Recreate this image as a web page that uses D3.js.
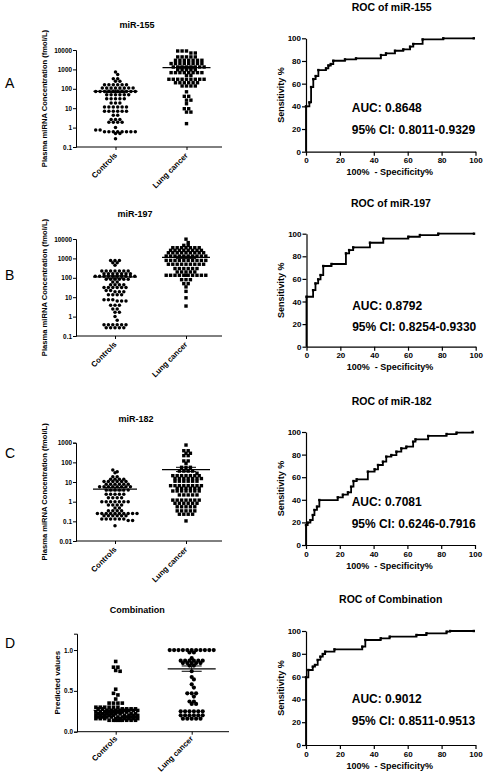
<!DOCTYPE html>
<html><head><meta charset="utf-8">
<script src="https://cdn.jsdelivr.net/npm/d3@7"></script>
<style>body{margin:0;background:#fff}svg{display:block}</style>
</head><body><svg id="c" width="487" height="773"></svg>
<script>
// ---------- DATA ----------
const categories = ["Controls", "Lung cancer"];
const panelLetters = ["A", "B", "C", "D"];
const scatterTitles = ["miR-155", "miR-197", "miR-182", "Combination"];
const rocTitles = ["ROC of miR-155", "ROC of miR-197", "ROC of miR-182", "ROC of Combination"];
const aucLabels = ["AUC: 0.8648", "AUC: 0.8792", "AUC: 0.7081", "AUC: 0.9012"];
const ciLabels = ["95% CI: 0.8011-0.9329", "95% CI: 0.8254-0.9330", "95% CI: 0.6246-0.7916", "95% CI: 0.8511-0.9513"];
const concLabel = "Plasma miRNA Concentration (fmol/L)";
const predLabel = "Predicted values";
const rocXLabel = "100%  - Specificity%";
const rocYLabel = "Sensitivity %";
const logTicksAB = [0.1, 1, 10, 100, 1000, 10000];
const logTicksC = [0.01, 0.1, 1, 10, 100, 1000];
const linTicksD = [0, 0.5, 1.0];
const rocTicks = [0, 20, 40, 60, 80, 100];

const mir155Controls = [740, 540, 330, 330, 245, 245, 160, 160, 160, 160, 160, 160, 110, 110, 110, 110, 110, 110, 110, 110,
  72, 72, 72, 72, 72, 72, 72, 72, 72, 72, 50, 50, 50, 50, 50, 50, 31, 31, 31, 31, 31, 18.6, 18.6, 18.6,
  11.5, 11.5, 11.5, 11.5, 11.5, 11.5, 7, 7, 7, 7, 7, 7, 4.3, 4.3, 2.6, 2.6, 2.6, 1.9, 1.9, 1.9, 1.9, 1.0,
  0.75, 0.75, 0.62, 0.62, 0.62, 0.62, 0.62, 0.62, 0.62, 0.62, 0.49, 0.49, 0.27];
const mir155Lung = [8900, 8900, 8900, 7000, 7000, 4400, 4400, 4400, 4400, 4400, 2950, 2950, 2950, 2950, 2950, 2950, 2950,
  2000, 2000, 2000, 2000, 2000, 2000, 2000, 2000, 1330, 1330, 1330, 1330, 1330, 1330, 1330, 1330,
  950, 950, 950, 950, 950, 680, 680, 680, 680, 680, 680, 680, 680, 490, 490,
  310, 310, 310, 310, 310, 310, 310, 310, 310, 205, 205, 205, 205, 205, 205, 140, 140, 140, 140,
  70, 41, 41, 26, 26, 17, 9.4, 9.4, 6.3, 6.3, 1.6];
const mir155Mean = [74, 1230];
const mir155SemLow = [64, 1080];
const mir155SemHigh = [86, 1400];

const mir197Controls = [790, 790, 790, 600, 600, 450, 225, 225, 225, 225, 225, 225, 225, 163, 163, 163, 163, 163, 163, 163,
  120, 120, 120, 120, 120, 120, 120, 120, 120, 120, 83, 83, 83, 83, 83, 83, 60, 60, 44, 44, 44, 44,
  32, 32, 32, 32, 32, 32, 22, 22, 19, 19, 19, 13.5, 13.5, 13.5, 13.5, 7.4, 7.4, 7.4, 6.3, 6.3, 6.3,
  3.8, 3.8, 3.8, 2.5, 2.5, 1.7, 1.7, 1.0, 0.65, 0.38, 0.38, 0.38, 0.38, 0.38, 0.38, 0.27, 0.27, 0.27, 0.27, 0.27];
const mir197Lung = [9800, 6500, 4700, 4700, 3550, 3550, 3550, 3550, 3550, 3550, 3550, 2600, 2600, 2600, 2600, 2600, 2600, 2600, 2600,
  1960, 1960, 1960, 1960, 1960, 1960, 1960, 1960, 1960, 1320, 1320, 1320, 1320, 1320, 1320, 1320, 1320, 1320, 1320,
  790, 790, 790, 790, 790, 790, 790, 790, 790, 790, 500, 500, 500, 500, 500, 500, 500, 500, 500,
  300, 300, 300, 300, 300, 300, 200, 200, 200, 200, 200, 135, 135, 135, 135, 135, 135, 135, 135, 135, 135, 135,
  80, 80, 80, 50, 50, 34, 20, 9.3, 3.5];
const mir197Mean = [110, 1130];
const mir197SemLow = [94, 1000];
const mir197SemHigh = [128, 1270];

const mir182Controls = [41, 33, 30, 18.6, 18.6, 14, 14, 14, 14, 10.5, 10.5, 10.5, 10.5, 10.5, 10.5,
  7.6, 7.6, 7.6, 7.6, 7.6, 7.6, 5.8, 5.8, 5.8, 5.8, 5.8, 5.8, 5.8, 5.8, 3.9, 3.9, 3.9, 3.9, 3.9, 3.9,
  2.4, 2.4, 2.4, 2.4, 2.4, 1.6, 1.6, 1.6, 1.6, 1.0, 1.0, 1.0, 1.0, 1.0, 1.0, 1.0, 0.67, 0.67, 0.67, 0.67,
  0.48, 0.48, 0.35, 0.35, 0.35, 0.35, 0.25, 0.25, 0.25, 0.25, 0.25, 0.25, 0.25, 0.25, 0.25, 0.25,
  0.19, 0.19, 0.19, 0.19, 0.19, 0.19, 0.13, 0.13, 0.13, 0.13, 0.13, 0.13, 0.11, 0.11, 0.06];
const mir182Lung = [760, 390, 390, 290, 290, 220, 220, 118, 118, 90, 56, 56, 56, 36, 36, 36, 36, 28,
  21, 21, 21, 21, 21, 21, 21, 15, 15, 15, 15, 15, 15, 15, 11, 11, 11, 11, 11, 11,
  6.5, 6.5, 6.5, 6.5, 6.5, 6.5, 6.5, 6.5, 4.8, 4.8, 4.8, 4.8, 4.8, 4.8, 3.5, 3.5, 3.5, 3.5, 3.5, 3.5, 3.5,
  2.2, 2.2, 2.2, 2.2, 2.2, 1.2, 1.2, 1.2, 1.2, 1.2, 1.2, 1.2, 0.83, 0.83, 0.83, 0.83, 0.83, 0.83,
  0.55, 0.55, 0.55, 0.55, 0.55, 0.34, 0.34, 0.34, 0.34, 0.34, 0.23, 0.23, 0.23, 0.23, 0.105];
const mir182Mean = [4.4, 43];
const mir182SemLow = [3.6, 34];
const mir182SemHigh = [5.3, 56];

const comboControls = [0.86, 0.79, 0.79, 0.75, 0.74, 0.52, 0.47, 0.45, 0.40, 0.35, 0.35, 0.35, 0.35,
  0.30, 0.30, 0.30, 0.30, 0.30, 0.30, 0.28, 0.28, 0.28, 0.28, 0.28, 0.28,
  0.26, 0.26, 0.26, 0.26, 0.26, 0.26, 0.26, 0.26, 0.24, 0.24, 0.24, 0.24, 0.24, 0.24, 0.24, 0.24,
  0.22, 0.22, 0.22, 0.22, 0.22, 0.22, 0.22, 0.22, 0.20, 0.20, 0.20, 0.20, 0.20, 0.20, 0.20, 0.20, 0.20,
  0.18, 0.18, 0.18, 0.18, 0.18, 0.18, 0.18, 0.18, 0.18, 0.16, 0.16, 0.16, 0.16, 0.16, 0.16, 0.16, 0.16, 0.16,
  0.14, 0.14, 0.14, 0.14, 0.14, 0.14, 0.14, 0.14, 0.14];
const comboLung = [1.0, 1.0, 1.0, 1.0, 1.0, 1.0, 1.0, 1.0, 1.0, 1.0, 1.0, 0.97, 0.97, 0.90,
  0.87, 0.87, 0.87, 0.87, 0.87, 0.87, 0.84, 0.84, 0.84, 0.84, 0.84, 0.81, 0.81, 0.74, 0.67, 0.64, 0.58, 0.54,
  0.47, 0.47, 0.47, 0.43, 0.37, 0.37, 0.34, 0.34, 0.25, 0.25, 0.25, 0.25, 0.25, 0.25,
  0.20, 0.20, 0.20, 0.20, 0.20, 0.20, 0.16, 0.16, 0.16, 0.16, 0.16];
const comboMean = [0.26, 0.77];
const comboSemLow = [0.245, 0.74];
const comboSemHigh = [0.275, 0.805];

const roc155Fpr = [0, 0, 2, 3, 4.3, 5.7, 7.3, 11.8, 13.2, 14.6, 16.1, 23, 29.5, 44.2, 47.2, 52.5, 57.4, 61.4, 63.3, 68.8, 81, 99];
const roc155Tpr = [0, 40, 43.5, 57, 64, 66.7, 72, 73.5, 76, 77.3, 80.2, 81.4, 82.3, 85.2, 86.7, 89, 90.2, 92.6, 95, 99, 100, 100];
const roc197Fpr = [0, 0, 3.9, 5.3, 6.9, 8.3, 9.9, 14.8, 23.3, 25.2, 27.6, 37.5, 45.4, 60.2, 67, 77.9, 99];
const roc197Tpr = [0, 44.2, 50, 56, 59.6, 63.4, 71.4, 73.2, 82.6, 85.5, 87.9, 92, 95.6, 97.3, 98.8, 100, 100];
const roc182Fpr = [0, 0, 1, 2.6, 4, 5, 6.5, 7.9, 18.8, 21.8, 24.8, 26.7, 28.1, 30, 36.6, 40.6, 42.6, 45.5, 47.5, 50.5, 53.5, 56.4, 59.4, 63.4, 64.8, 72.3, 83.2, 89.1, 98.6];
const roc182Tpr = [0, 17.7, 19.8, 22, 26.5, 31, 34, 39.8, 42.2, 44.5, 46.6, 51.6, 56.6, 58.1, 64.9, 67, 70.8, 73.7, 78.2, 79.6, 82.6, 85.5, 87, 91.4, 93.5, 96.5, 98.2, 99.4, 100];
const rocComboFpr = [0, 0, 1.4, 4, 5.3, 6.9, 8.5, 9.9, 11.3, 16.8, 33.2, 35, 44.1, 49.4, 65.2, 71.1, 83, 85, 99];
const rocComboTpr = [0, 59.4, 65.8, 68.7, 70.2, 74.6, 77.5, 79.8, 81.9, 83.9, 86.3, 92.1, 93.6, 95, 96.5, 98, 99.4, 100, 100];

// ---------- DRAWING ----------
const FONT = '"Liberation Sans", Arial, Helvetica, sans-serif';
const svg = d3.select("#c").attr("font-family", FONT);

function swarmLayout(values, y, cx, step, binH, maxN) {
  const pts = values.map(v => ({ v, y: y(v) })).sort((a, b) => a.y - b.y);
  const rows = []; let cur = null;
  for (const p of pts) {
    if (!cur || p.y - cur.y0 > binH || cur.pts.length >= maxN) { cur = { y0: p.y, pts: [] }; rows.push(cur); }
    cur.pts.push(p);
  }
  let prev = null;
  for (const r of rows) {
    const n = r.pts.length;
    let shift = 0;
    if (prev && r.y0 - prev.y0 < 4 && (n % 2) === (prev.n % 2)) shift = prev.shift ? 0 : step / 2;
    r.pts.forEach((p, i) => { p.x = cx + (i - (n - 1) / 2) * step + shift; });
    r.n = n; r.shift = shift; prev = r;
  }
  return pts;
}

const scatterPanels = [
  { letterY: 88, titleY: 28, titleX: 137, left: 76, right: 222, top: 50, bottom: 147, cats: [115.5, 186.5], log: true,
    ticks: logTicksAB, domain: [0.1, 10000], groups: [mir155Controls, mir155Lung], mean: mir155Mean, lo: mir155SemLow, hi: mir155SemHigh,
    shapes: ["circle", "square"], ylab: concLabel, ylabX: 46.5, ylabSize: 7.6, maxN: [10, 10], labDy: 9 },
  { letterY: 280, titleY: 217.3, titleX: 135, left: 76, right: 222, top: 239, bottom: 336, cats: [115, 186], log: true,
    ticks: logTicksAB, domain: [0.1, 10000], groups: [mir197Controls, mir197Lung], mean: mir197Mean, lo: mir197SemLow, hi: mir197SemHigh,
    shapes: ["circle", "square"], ylab: concLabel, ylabX: 46.5, ylabSize: 7.6, maxN: [10, 10], labDy: 9 },
  { letterY: 458.3, titleY: 421.7, titleX: 136, left: 76, right: 222, top: 442.7, bottom: 541, cats: [115, 186], log: true,
    ticks: logTicksC, domain: [0.01, 1000], groups: [mir182Controls, mir182Lung], mean: mir182Mean, lo: mir182SemLow, hi: mir182SemHigh,
    shapes: ["circle", "square"], ylab: concLabel, ylabX: 46.5, ylabSize: 7.6, maxN: [11, 10], labDy: 9 },
  { letterY: 648.3, titleY: 612.7, titleX: 137.3, left: 77, right: 229, top: 633.7, bottom: 731.7, cats: [115.7, 191.7], log: false,
    ticks: linTicksD, domain: [0, 1.2], groups: [comboControls, comboLung], mean: comboMean, lo: comboSemLow, hi: comboSemHigh,
    shapes: ["square", "circle"], ylab: predLabel, ylabX: 60, ylabSize: 8, maxN: [10, 11], labDy: 7.5 }
];

scatterPanels.forEach((p, pi) => {
  const g = svg.append("g");
  g.append("text").attr("x", 5).attr("y", p.letterY).attr("font-size", 14).text(panelLetters[pi]);
  g.append("text").attr("x", p.titleX).attr("y", p.titleY).attr("text-anchor", "middle")
    .attr("font-size", 9).attr("font-weight", "bold").text(scatterTitles[pi]);

  const y = (p.log ? d3.scaleLog() : d3.scaleLinear()).domain(p.domain).range([p.bottom, p.top]);
  const x = d3.scalePoint().domain(categories).range(p.cats);

  const ya = g.append("g").attr("transform", `translate(${p.left},0)`)
    .call(d3.axisLeft(y).tickValues(p.ticks).tickSizeOuter(0).tickSize(3).tickPadding(1)
      .tickFormat(p.log ? (d => String(d)) : d3.format(".1f")));
  ya.selectAll("text").attr("font-size", 6.4).attr("font-weight", "bold").attr("fill", "#000").attr("font-family", FONT);
  ya.selectAll("line,path").attr("stroke", "#000");

  g.append("line").attr("x1", p.left).attr("x2", p.right).attr("y1", p.bottom).attr("y2", p.bottom)
    .attr("stroke", "#000");
  const xa = g.append("g").attr("transform", `translate(0,${p.bottom})`)
    .call(d3.axisBottom(x).tickSize(3).tickSizeOuter(0).tickFormat(""));
  xa.select(".domain").remove();
  xa.selectAll("line").attr("stroke", "#000");
  categories.forEach(c => {
    const lx = x(c) + 2, ly = p.bottom + p.labDy;
    g.append("text").attr("transform", `translate(${lx},${ly}) rotate(-45)`)
      .attr("text-anchor", "end").attr("font-size", 7.8).attr("font-weight", "bold").text(c);
  });

  const cy = (p.top + p.bottom) / 2;
  g.append("text").attr("transform", `translate(${p.ylabX},${cy}) rotate(-90)`).attr("text-anchor", "middle")
    .attr("font-size", p.ylabSize).attr("font-weight", "bold").text(p.ylab);

  p.groups.forEach((vals, gi) => {
    const cx = x(categories[gi]);
    const pts = swarmLayout(vals, y, cx, 4.4, 2.2, p.maxN[gi]);
    if (p.shapes[gi] === "circle") {
      g.append("g").selectAll("circle").data(pts).join("circle")
        .attr("cx", d => d.x).attr("cy", d => d.y).attr("r", pi === 3 ? 2.1 : 1.75).attr("fill", "#000");
    } else {
      const s = pi === 3 ? 3.6 : 3.4;
      g.append("g").selectAll("rect").data(pts).join("rect")
        .attr("x", d => d.x - s / 2).attr("y", d => d.y - s / 2).attr("width", s).attr("height", s).attr("fill", "#000");
    }
    const hw = gi === 0 ? 22 : 24;
    g.append("line").attr("x1", cx - hw).attr("x2", cx + hw).attr("y1", y(p.mean[gi])).attr("y2", y(p.mean[gi]))
      .attr("stroke", "#000").attr("stroke-width", 1.2);
    g.append("line").attr("x1", cx).attr("x2", cx).attr("y1", y(p.lo[gi])).attr("y2", y(p.hi[gi]))
      .attr("stroke", "#000").attr("stroke-width", 1);
    [p.lo[gi], p.hi[gi]].forEach(v => {
      g.append("line").attr("x1", cx - 10).attr("x2", cx + 10).attr("y1", y(v)).attr("y2", y(v))
        .attr("stroke", "#000").attr("stroke-width", 1);
    });
  });
});

const rocPanels = [
  { left: 306, right: 475.5, top: 38.3, bottom: 151.7, titleY: 10.7, titleX: 391.7, aucY: 112.3, ciY: 134.3, fpr: roc155Fpr, tpr: roc155Tpr },
  { left: 306.5, right: 475.7, top: 233.7, bottom: 346.7, titleY: 206.7, titleX: 391, aucY: 310, ciY: 330.7, fpr: roc197Fpr, tpr: roc197Tpr },
  { left: 306, right: 475, top: 432, bottom: 545, titleY: 405, titleX: 391.7, aucY: 505.7, ciY: 528.3, fpr: roc182Fpr, tpr: roc182Tpr },
  { left: 306, right: 475.5, top: 631, bottom: 745, titleY: 603.3, titleX: 390.7, aucY: 703.3, ciY: 725, fpr: rocComboFpr, tpr: rocComboTpr }
];

rocPanels.forEach((p, pi) => {
  const g = svg.append("g");
  const x = d3.scaleLinear().domain([0, 100]).range([p.left, p.right]);
  const y = d3.scaleLinear().domain([0, 100]).range([p.bottom, p.top]);
  g.append("text").attr("x", p.titleX).attr("y", p.titleY).attr("text-anchor", "middle")
    .attr("font-size", 10.5).attr("font-weight", "bold").text(rocTitles[pi]);

  const xa = g.append("g").attr("transform", `translate(0,${p.bottom})`)
    .call(d3.axisBottom(x).tickValues(rocTicks).tickSize(4).tickSizeOuter(0).tickPadding(2));
  const ya = g.append("g").attr("transform", `translate(${p.left},0)`)
    .call(d3.axisLeft(y).tickValues(rocTicks).tickSize(4).tickSizeOuter(0).tickPadding(1));
  [xa, ya].forEach(a => {
    a.selectAll("line,path").attr("stroke", "#000").attr("stroke-width", 1.2);
    a.selectAll("text").attr("font-size", 8).attr("font-weight", "bold").attr("fill", "#000").attr("font-family", FONT);
  });

  g.append("text").attr("x", (p.left + p.right) / 2 - 1).attr("y", Math.min(p.bottom + 23.5, 768.5)).attr("text-anchor", "middle")
    .attr("font-size", 9).attr("font-weight", "bold").style("white-space", "pre").text(rocXLabel);
  g.append("text").attr("transform", `translate(${p.left - 22.5},${(p.top + p.bottom) / 2}) rotate(-90)`)
    .attr("text-anchor", "middle").attr("font-size", 9).attr("font-weight", "bold").text(rocYLabel);

  const pts = p.fpr.map((f, i) => [f, p.tpr[i]]);
  g.append("path").datum(pts)
    .attr("d", d3.line().x(d => x(d[0])).y(d => y(d[1])).curve(d3.curveStepAfter))
    .attr("fill", "none").attr("stroke", "#000").attr("stroke-width", 1.8);
  g.append("g").selectAll("rect").data(pts.slice(1)).join("rect")
    .attr("x", d => x(d[0]) - 1.2).attr("y", d => y(d[1]) - 1.2).attr("width", 2.4).attr("height", 2.4).attr("fill", "#000");

  g.append("text").attr("x", x(27)).attr("y", p.aucY).attr("font-size", 12).attr("font-weight", "bold").text(aucLabels[pi]);
  g.append("text").attr("x", x(27)).attr("y", p.ciY).attr("font-size", 12).attr("font-weight", "bold").text(ciLabels[pi]);
});
</script>
</body></html>
